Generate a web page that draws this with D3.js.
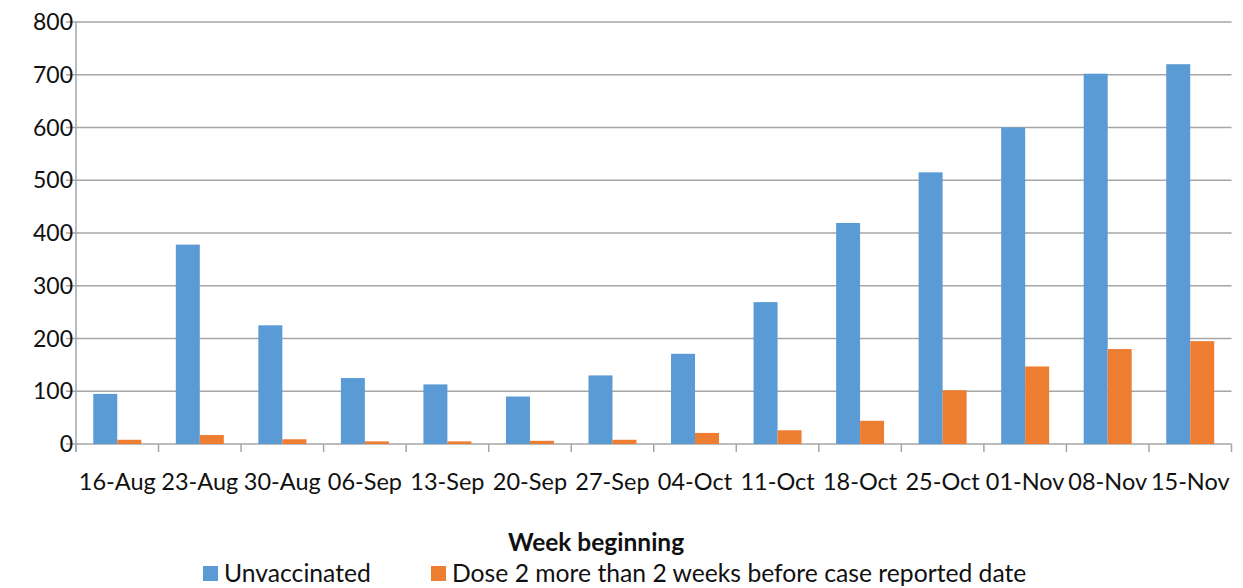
<!DOCTYPE html>
<html lang="en">
<head>
<meta charset="UTF-8">
<script src="https://d3js.org/d3.v7.min.js"></script>
<title>Week beginning</title>
<style>
  body { margin: 0; background: #fff; }
  svg { display: block; font-family: Lato, "Open Sans", sans-serif; }
  .grid line { stroke: #a6a6a6; stroke-width: 1.5; }
  text { fill: #111; }
</style>
</head>
<body>
<svg width="1243" height="588"></svg>
<script>
const weeks = ["16-Aug", "23-Aug", "30-Aug", "06-Sep", "13-Sep", "20-Sep", "27-Sep",
  "04-Oct", "11-Oct", "18-Oct", "25-Oct", "01-Nov", "08-Nov", "15-Nov"]
const unvaccinated = [95, 378, 225, 125, 113, 90, 130, 171, 269, 419, 515, 600, 702, 720]
const dose2 = [8, 17, 9, 5, 5, 6, 8, 21, 26, 44, 102, 147, 180, 195]
const seriesNames = ["Unvaccinated", "Dose 2 more than 2 weeks before case reported date"]
const colors = ["#5b9bd5", "#ed7d31"]
const yTicks = [0, 100, 200, 300, 400, 500, 600, 700, 800]

const svg = d3.select("svg")
const plotLeft = 76, plotRight = 1231.5, plotTop = 22, plotBottom = 444

const x0 = d3.scaleBand().domain(weeks).range([plotLeft, plotRight])
const x1 = d3.scaleBand().domain([0, 1]).range([0, x0.bandwidth()]).paddingOuter(0.72)
const y = d3.scaleLinear().domain([0, 800]).range([plotBottom, plotTop])

// gridlines + y labels
const grid = svg.append("g").attr("class", "grid")
grid.selectAll("line").data(yTicks).enter().append("line")
  .attr("x1", plotLeft - 10).attr("x2", plotRight)
  .attr("y1", d => y(d)).attr("y2", d => y(d))

svg.append("g").selectAll("text").data(yTicks).enter().append("text")
  .attr("x", plotLeft - 3).attr("y", d => y(d))
  .attr("dy", "0.35em").attr("text-anchor", "end")
  .style("font-size", "23px")
  .text(d => d)

// bars
const rows = weeks.map((w, i) => ({ week: w, vals: [unvaccinated[i], dose2[i]] }))
const groups = svg.append("g").selectAll("g").data(rows).enter().append("g")
  .attr("transform", d => `translate(${x0(d.week)},0)`)
groups.selectAll("rect").data(d => d.vals).enter().append("rect")
  .attr("x", (d, i) => x1(i))
  .attr("width", x1.bandwidth())
  .attr("y", d => y(d))
  .attr("height", d => plotBottom - y(d))
  .attr("fill", (d, i) => colors[i])

// axes lines
const axisG = svg.append("g").attr("class", "grid")
axisG.append("line").attr("x1", plotLeft).attr("x2", plotLeft).attr("y1", plotTop).attr("y2", plotBottom + 8)
const bounds = weeks.map(w => x0(w)).concat([plotRight])
axisG.selectAll(".tk").data(bounds).enter().append("line")
  .attr("x1", d => d).attr("x2", d => d).attr("y1", plotBottom).attr("y2", plotBottom + 8)

// x labels
svg.append("g").selectAll("text").data(weeks).enter().append("text")
  .attr("x", d => x0(d) + x0.bandwidth() / 2)
  .attr("y", 490).attr("text-anchor", "middle")
  .style("font-size", "23.5px")
  .text(d => d)

// axis title
svg.append("text").attr("x", 596).attr("y", 551).attr("text-anchor", "middle")
  .style("font-size", "24.5px").style("font-weight", "bold")
  .text("Week beginning")

// legend
const legendX = [203, 431]
const legend = svg.append("g").selectAll("g").data(seriesNames).enter().append("g")
  .attr("transform", (d, i) => `translate(${legendX[i]},566)`)
legend.append("rect").attr("width", 15).attr("height", 15).attr("fill", (d, i) => colors[i])
legend.append("text").attr("x", 21).attr("y", 16)
  .style("font-size", "24.7px").text(d => d)
</script>
</body>
</html>
